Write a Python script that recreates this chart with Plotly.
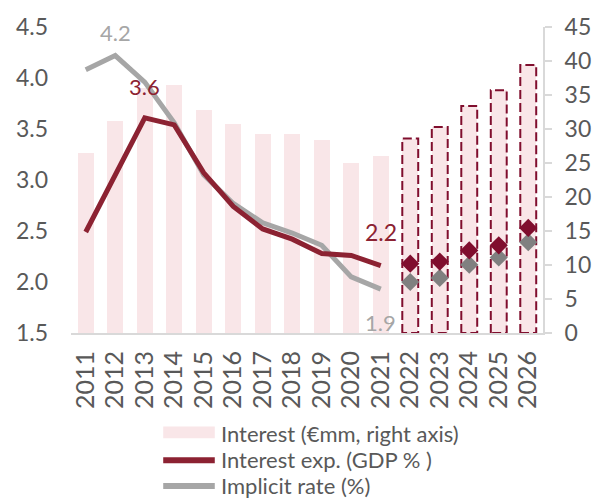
import plotly.graph_objects as go

# ---------------- data ----------------
years = list(range(2011, 2027))
hist_years = list(range(2011, 2022))
fcst_years = list(range(2022, 2027))

interest_mm = [26.4, 31.2, 36.0, 36.4, 32.8, 30.7, 29.2, 29.2, 28.4, 25.0, 26.0,
               28.6, 30.3, 33.4, 35.7, 39.4]
interest_gdp = [2.49, 3.05, 3.61, 3.54, 3.07, 2.74, 2.52, 2.42, 2.28, 2.26, 2.16]
implicit_rate = [4.08, 4.22, 3.96, 3.56, 3.05, 2.77, 2.58, 2.48, 2.36, 2.05, 1.93]
interest_gdp_fcst = [2.18, 2.20, 2.31, 2.36, 2.53]
implicit_rate_fcst = [2.00, 2.04, 2.17, 2.24, 2.39]

left_ticks = [1.5, 2.0, 2.5, 3.0, 3.5, 4.0, 4.5]
right_ticks = [0, 5, 10, 15, 20, 25, 30, 35, 40, 45]

legend_labels = ["Interest (€mm, right axis)", "Interest exp. (GDP % )", "Implicit rate (%)"]

# ---------------- style ----------------
FONT = "Lato"
TXT = "#595959"
PINK = "#F9E6E8"
RED = "#8C2232"
RED_D = "#800E2E"
GREY = "#A6A6A6"
GREY_D = "#808080"
AXC = "#D9D9D9"
BW = 0.54

fig = go.Figure()

# bars (primary y axis shown on the right)
fig.add_trace(go.Bar(x=years, y=interest_mm, width=BW, marker=dict(color=PINK, line=dict(width=0)),
                     yaxis="y", showlegend=False, hoverinfo="x+y"))

# dashed outlines for forecast bars
ox, oy = [], []
n_hist = len(hist_years)
for yr, v in zip(fcst_years, interest_mm[n_hist:]):
    ox += [yr - BW / 2, yr - BW / 2, yr + BW / 2, yr + BW / 2, yr - BW / 2, None]
    oy += [0, v, v, 0, 0, None]
fig.add_trace(go.Scatter(x=ox, y=oy, mode="lines", yaxis="y",
                         line=dict(color=RED_D, width=2, dash="9px,4px"),
                         showlegend=False, hoverinfo="skip"))

# lines (left axis, overlay)
fig.add_trace(go.Scatter(x=hist_years, y=implicit_rate, mode="lines", yaxis="y2",
                         line=dict(color=GREY, width=5), showlegend=False))
fig.add_trace(go.Scatter(x=hist_years, y=interest_gdp, mode="lines", yaxis="y2",
                         line=dict(color=RED, width=5), showlegend=False))
fig.add_trace(go.Scatter(x=fcst_years, y=implicit_rate_fcst, mode="markers", yaxis="y2",
                         marker=dict(symbol="diamond", size=14, color=GREY_D), showlegend=False))
fig.add_trace(go.Scatter(x=fcst_years, y=interest_gdp_fcst, mode="markers", yaxis="y2",
                         marker=dict(symbol="diamond", size=14, color=RED_D), showlegend=False))

# data labels
ann = []
ann.append(dict(x=hist_years[1], y=implicit_rate[1], xref="x", yref="y2", text=f"{implicit_rate[1]:.1f}",
                showarrow=False, yshift=23, font=dict(family=FONT, size=22, color=GREY)))
ann.append(dict(x=hist_years[2], y=interest_gdp[2], xref="x", yref="y2", text=f"{interest_gdp[2]:.1f}",
                showarrow=False, yshift=31, font=dict(family=FONT, size=22, color=RED)))
ann.append(dict(x=hist_years[-1], y=interest_gdp[-1], xref="x", yref="y2", text=f"{interest_gdp[-1]:.1f}",
                showarrow=False, yshift=34, font=dict(family=FONT, size=23, color=RED)))
ann.append(dict(x=hist_years[-1], y=implicit_rate[-1], xref="x", yref="y2", text=f"{implicit_rate[-1]:.1f}",
                showarrow=False, yshift=-33, font=dict(family=FONT, size=22, color=GREY)))

# custom legend
L, R, T, B = 71, 56, 25, 167
PW, PH = 603 - L - R, 500 - T - B
def px_x(p): return (p - L) / PW
def px_y(p): return (500 - B - p) / PH

shapes = [
    dict(type="rect", xref="paper", yref="paper", x0=px_x(164), x1=px_x(216), y0=px_y(439), y1=px_y(427),
         fillcolor=PINK, line=dict(width=0)),
    dict(type="line", xref="paper", yref="paper", x0=px_x(164), x1=px_x(216), y0=px_y(461), y1=px_y(461),
         line=dict(color=RED, width=6)),
    dict(type="line", xref="paper", yref="paper", x0=px_x(164), x1=px_x(216), y0=px_y(487), y1=px_y(487),
         line=dict(color=GREY, width=6)),
]
for lab, yy in zip(legend_labels, [434, 460, 486]):
    ann.append(dict(x=px_x(220), y=px_y(yy), xref="paper", yref="paper", text=lab, showarrow=False,
                    xanchor="left", yanchor="middle", font=dict(family=FONT, size=22, color=TXT)))

fig.update_layout(
    width=603, height=500,
    margin=dict(l=L, r=R, t=T, b=B),
    paper_bgcolor="white", plot_bgcolor="white",
    font=dict(family=FONT, color=TXT),
    showlegend=False,
    bargap=0,
    xaxis=dict(range=[2010.5, 2026.5], tickmode="array", tickvals=years, ticktext=[str(y) for y in years],
               tickangle=-90, tickfont=dict(family=FONT, size=25, color=TXT), showgrid=False, zeroline=False,
               showline=True, linecolor=AXC, linewidth=2, ticks="", ticklabelstandoff=6),
    yaxis=dict(range=[0, 45], side="right", tickvals=right_ticks, showgrid=False, zeroline=False,
               showline=True, linecolor=AXC, linewidth=2, ticks="outside", ticklen=7, tickcolor=AXC,
               tickwidth=2, tickfont=dict(family=FONT, size=23, color=TXT), ticklabelstandoff=8),
    yaxis2=dict(range=[1.5, 4.5], side="left", overlaying="y", tickvals=left_ticks,
                tickformat=".1f", showgrid=False, zeroline=False, showline=False, ticks="",
                tickfont=dict(family=FONT, size=23, color=TXT), ticklabelstandoff=22),
    shapes=shapes,
    annotations=ann,
)

fig.write_html("out.html")
